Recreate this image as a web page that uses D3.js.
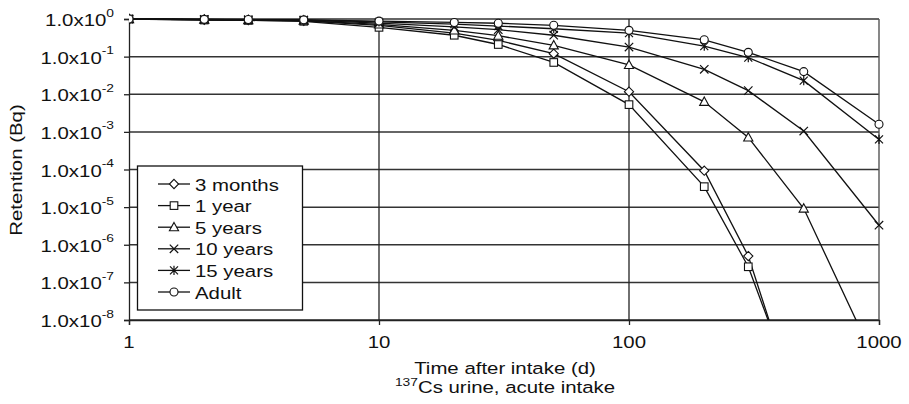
<!DOCTYPE html>
<html>
<head>
<meta charset="utf-8">
<script src="https://cdn.jsdelivr.net/npm/d3@7"></script>
<style>
  html, body { margin: 0; padding: 0; background: #fff; }
  svg { display: block; font-family: "Liberation Sans", Arial, sans-serif; }
</style>
</head>
<body>
<svg id="chart" width="909" height="404"></svg>
<script>
// Days after intake
const days = [1, 2, 3, 5, 10, 20, 30, 50, 100, 200, 300, 500, 1000];

// Retention (Bq) per age group
const months3 = [1, 0.95, 0.93, 0.89, 0.68, 0.42, 0.27, 0.12, 0.0117, 9.3e-5, 5.0e-7, 1.4e-11];
const year1   = [1, 0.94, 0.92, 0.87, 0.60, 0.37, 0.21, 0.07, 0.0053, 3.5e-5, 2.6e-7, 2.8e-11];
const years5  = [1, 0.96, 0.94, 0.91, 0.72, 0.50, 0.36, 0.20, 0.060, 0.0063, 7.1e-4, 9.2e-6, 5.0e-10];
const years10 = [1, 0.97, 0.95, 0.93, 0.78, 0.62, 0.52, 0.37, 0.18, 0.046, 0.0125, 0.00105, 3.3e-6];
const years15 = [1, 0.98, 0.96, 0.94, 0.84, 0.73, 0.65, 0.55, 0.42, 0.19, 0.094, 0.023, 6.3e-4];
const adult   = [1, 0.98, 0.97, 0.95, 0.88, 0.81, 0.77, 0.68, 0.50, 0.28, 0.13, 0.040, 0.0016];

const seriesNames = ["3 months", "1 year", "5 years", "10 years", "15 years", "Adult"];
const seriesValues = [months3, year1, years5, years10, years15, adult];
const seriesMarkers = ["diamond", "square", "triangle", "cross", "asterisk", "circle"];

const yExponents = [0, -1, -2, -3, -4, -5, -6, -7, -8];
const xTicks = [1, 10, 100, 1000];

const svg = d3.select("#chart");
const plotLeft = 129, plotRight = 879, plotTop = 19, plotBottom = 320;
const FONT = 17, SUP = 11.5, STRETCH = 1.2;

const x = d3.scaleLog().domain([1, 1000]).range([plotLeft, plotRight]);
const y = d3.scaleLog().domain([1e-8, 1]).range([plotBottom, plotTop]);

// Text with the wide lettering used throughout the chart
function wideText(parent, tx, ty, anchor, rotate) {
  const rot = rotate ? ` rotate(${rotate})` : "";
  return parent.append("text")
    .attr("transform", `translate(${tx},${ty})${rot} scale(${STRETCH},1)`)
    .attr("text-anchor", anchor).attr("font-size", FONT).attr("fill", "#111");
}

// Clip region for the curves
svg.append("defs").append("clipPath").attr("id", "plotClip")
  .append("rect").attr("x", plotLeft).attr("y", plotTop - 6)
  .attr("width", plotRight - plotLeft + 6).attr("height", plotBottom - plotTop + 6);

// Horizontal grid lines at each decade
svg.append("g").selectAll("line").data(yExponents).join("line")
  .attr("x1", plotLeft).attr("x2", plotRight)
  .attr("y1", d => y(Math.pow(10, d))).attr("y2", d => y(Math.pow(10, d)))
  .attr("stroke", "#333").attr("stroke-width", 1.5);

// Vertical grid lines at 10 and 100
svg.append("g").selectAll("line").data([10, 100]).join("line")
  .attr("x1", d => x(d)).attr("x2", d => x(d))
  .attr("y1", plotTop).attr("y2", plotBottom)
  .attr("stroke", "#222").attr("stroke-width", 1.3);

// Right border
svg.append("line").attr("x1", plotRight).attr("x2", plotRight)
  .attr("y1", plotTop).attr("y2", plotBottom)
  .attr("stroke", "#555").attr("stroke-width", 1.4);

// Y axis
const yAxis = d3.axisLeft(y).tickValues(yExponents.map(e => Math.pow(10, e)))
  .tickSize(5).tickFormat("");
const gy = svg.append("g").attr("transform", `translate(${plotLeft},0)`).call(yAxis);
gy.select(".domain").attr("stroke", "#222").attr("stroke-width", 1.3);
gy.selectAll(".tick line").attr("stroke", "#222").attr("stroke-width", 1.3);

// Y tick labels as 1.0x10^n
const ylg = svg.append("g");
yExponents.forEach(e => {
  const t = wideText(ylg, 114, y(Math.pow(10, e)) + 7, "end");
  t.append("tspan").text("1.0x10");
  t.append("tspan").attr("dy", -9.5).attr("font-size", SUP).text(String(e));
});

// X axis
const xAxis = d3.axisBottom(x).tickValues(xTicks).tickSize(5).tickFormat("");
const gx = svg.append("g").attr("transform", `translate(0,${plotBottom})`).call(xAxis);
gx.select(".domain").attr("stroke", "#222").attr("stroke-width", 1.3);
gx.selectAll(".tick line").attr("stroke", "#222").attr("stroke-width", 1.3);

const xlg = svg.append("g");
xTicks.forEach(v => wideText(xlg, x(v), 348, "middle").text(v));

// Axis titles
wideText(svg, 505, 374, "middle").text("Time after intake (d)");
const sub = wideText(svg, 505, 392.5, "middle");
sub.append("tspan").attr("font-size", SUP).attr("dy", -6.5).text("137");
sub.append("tspan").attr("dy", 6.5).text("Cs urine, acute intake");

wideText(svg, 22, 170, "middle", -90).text("Retention (Bq)");

// Marker drawing
function drawMarker(g, type) {
  const s = "#111";
  if (type === "diamond") {
    g.append("path").attr("d", "M0,-4.6L4.6,0L0,4.6L-4.6,0Z")
      .attr("fill", "#fff").attr("stroke", s).attr("stroke-width", 1.1);
  } else if (type === "square") {
    g.append("rect").attr("x", -3.8).attr("y", -3.8).attr("width", 7.6).attr("height", 7.6)
      .attr("fill", "#fff").attr("stroke", s).attr("stroke-width", 1.1);
  } else if (type === "triangle") {
    g.append("path").attr("d", "M0,-4.8L4.6,3.6L-4.6,3.6Z")
      .attr("fill", "#fff").attr("stroke", s).attr("stroke-width", 1.1);
  } else if (type === "cross") {
    g.append("path").attr("d", "M-4.2,-4.2L4.2,4.2M-4.2,4.2L4.2,-4.2")
      .attr("stroke", s).attr("stroke-width", 1.2).attr("fill", "none");
  } else if (type === "asterisk") {
    g.append("path").attr("d", "M-4,-4L4,4M-4,4L4,-4M0,-4.6L0,4.6")
      .attr("stroke", s).attr("stroke-width", 1.2).attr("fill", "none");
  } else if (type === "circle") {
    g.append("circle").attr("r", 4)
      .attr("fill", "#fff").attr("stroke", s).attr("stroke-width", 1.1);
  }
}

const line = d3.line().x(d => x(d[0])).y(d => y(d[1]));
const plot = svg.append("g").attr("clip-path", "url(#plotClip)");

seriesValues.forEach(vals => {
  const pts = vals.map((v, j) => [days[j], v]);
  plot.append("path").datum(pts).attr("d", line)
    .attr("fill", "none").attr("stroke", "#111").attr("stroke-width", 1.3);
});
seriesValues.forEach((vals, i) => {
  vals.forEach((v, j) => {
    if (v < 1e-8) return;
    const g = plot.append("g").attr("transform", `translate(${x(days[j])},${y(v)})`);
    drawMarker(g, seriesMarkers[i]);
  });
});

// Legend
const lg = svg.append("g");
lg.append("rect").attr("x", 137.5).attr("y", 166).attr("width", 165).attr("height", 144)
  .attr("fill", "#fff").attr("stroke", "#111").attr("stroke-width", 1.3);
seriesNames.forEach((name, i) => {
  const cy = 184 + i * 21.6;
  lg.append("line").attr("x1", 158).attr("x2", 190).attr("y1", cy).attr("y2", cy)
    .attr("stroke", "#111").attr("stroke-width", 1.3);
  drawMarker(lg.append("g").attr("transform", `translate(174,${cy})`), seriesMarkers[i]);
  wideText(lg, 195, cy + 6.5, "start").text(name);
});
</script>
</body>
</html>
